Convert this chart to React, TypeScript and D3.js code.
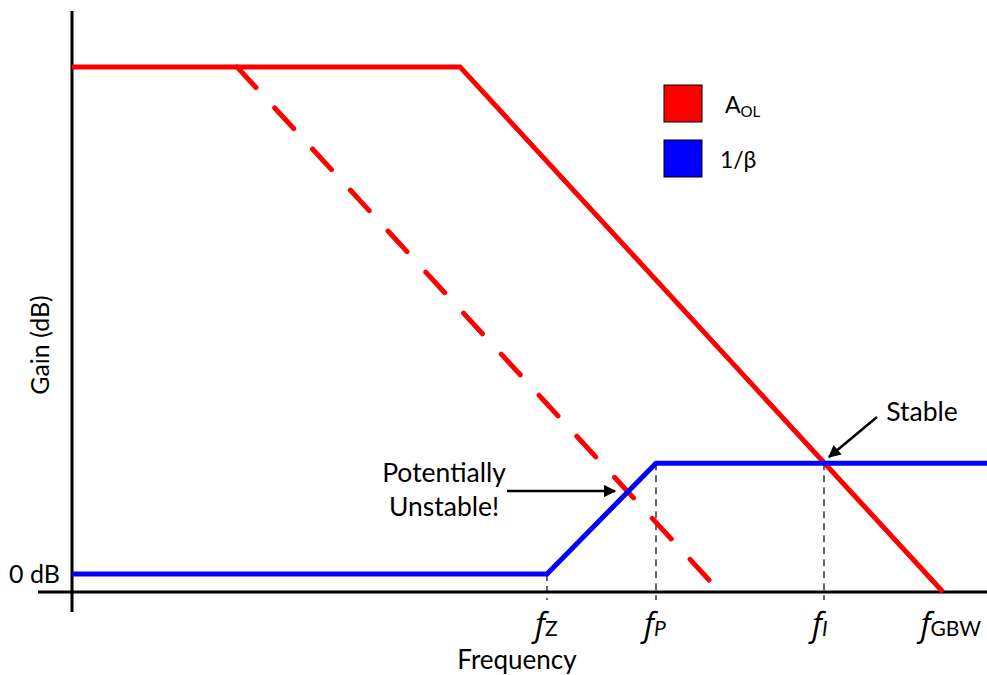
import React, { useEffect, useRef } from 'react';
import * as d3 from 'd3';

// frequency in decades (log10 f, arbitrary origin), gain in dB
const AOL_DEC = [0, 3.88, 8.71];
const AOL_DB = [93.3, 93.3, -3.3];
const AOL_DOM_DEC = [1.65, 6.37];
const AOL_DOM_DB = [93.3, -1.1];
const BETA_DEC = [0, 4.75, 5.84, 9.15];
const BETA_DB = [0, 0, 20.4, 20.4];

const FREQ_NAMES = ['Z', 'P', 'I', 'GBW'];
const FREQ_DEC = [4.75, 5.84, 7.52, 8.71];
const FREQ_ITALIC = [false, true, true, false];
const FREQ_GUIDE_DB = [0, 20.4, 20.4, null];

const LEGEND_NAMES = ['A', '1/β'];
const LEGEND_COLORS = ['#ff0000', '#0000ff'];

const W = 987;
const H = 675;

export default function App() {
  const svgRef = useRef<SVGSVGElement>(null);

  useEffect(() => {
    if (!svgRef.current) return;
    const svg = d3.select(svgRef.current);
    svg.selectAll('*').remove();

    const x = d3.scaleLinear().domain([0, 9.15]).range([72, 987]);
    const y = d3.scaleLinear().domain([0, 20]).range([574, 465.3]);
    const font = "Lato, 'Open Sans', sans-serif";

    const line = d3.line<[number, number]>().x(d => x(d[0])).y(d => y(d[1]));
    const zip = (a: number[], b: number[]) => a.map((v, i) => [v, b[i]] as [number, number]);

    // guides
    FREQ_DEC.forEach((f, i) => {
      const g = FREQ_GUIDE_DB[i];
      if (g === null) return;
      svg.append('line')
        .attr('x1', x(f)).attr('x2', x(f))
        .attr('y1', y(g)).attr('y2', y(-4.8))
        .attr('stroke', '#000').attr('stroke-width', 1.2)
        .attr('stroke-dasharray', '7,5');
    });

    // axes
    svg.append('line')
      .attr('x1', 72).attr('x2', 72)
      .attr('y1', y(103.6)).attr('y2', y(-7))
      .attr('stroke', '#000').attr('stroke-width', 3);
    svg.append('line')
      .attr('x1', 38).attr('x2', W)
      .attr('y1', y(-3.3)).attr('y2', y(-3.3))
      .attr('stroke', '#000').attr('stroke-width', 3);

    // dominant pole (dashed) A_OL, pattern ends on a dash
    const domPath = svg.append('path')
      .attr('d', line(zip(AOL_DOM_DEC, AOL_DOM_DB)))
      .attr('fill', 'none').attr('stroke', '#ff0000').attr('stroke-width', 5)
      .attr('stroke-linecap', 'round');
    const len = (domPath.node() as SVGPathElement).getTotalLength();
    const dash = 28;
    const n = Math.round((len - dash) / 55);
    domPath.attr('stroke-dasharray', `${dash},${(len - dash * (n + 1)) / n}`);

    svg.append('path')
      .attr('d', line(zip(AOL_DEC, AOL_DB)))
      .attr('fill', 'none').attr('stroke', '#ff0000').attr('stroke-width', 5);

    svg.append('path')
      .attr('d', line(zip(BETA_DEC, BETA_DB)))
      .attr('fill', 'none').attr('stroke', '#0000ff').attr('stroke-width', 5);

    // frequency labels
    FREQ_DEC.forEach((f, i) => {
      const t = svg.append('text')
        .attr('x', x(f) - 12)
        .attr('y', 636)
        .style('font-family', font);
      t.append('tspan').text('f')
        .style('font-family', "'Open Sans', sans-serif")
        .style('font-style', 'italic').style('font-size', '32px');
      t.append('tspan').text(FREQ_NAMES[i])
        .style('font-style', FREQ_ITALIC[i] ? 'italic' : 'normal')
        .style('font-size', '21px');
      const w = (t.node() as SVGTextElement).getComputedTextLength();
      if (x(f) - 12 + w > W - 6) t.attr('x', W - 6 - w);
    });

    // axis titles
    svg.append('text')
      .attr('x', 517).attr('y', 669)
      .attr('text-anchor', 'middle')
      .style('font-family', font).style('font-size', '26px')
      .text('Frequency');
    svg.append('text')
      .attr('transform', `translate(49,345) rotate(-90)`)
      .attr('text-anchor', 'middle')
      .style('font-family', font).style('font-size', '25px')
      .text('Gain (dB)');
    svg.append('text')
      .attr('x', 60).attr('y', y(0) + 9)
      .attr('text-anchor', 'end')
      .style('font-family', font).style('font-size', '25px')
      .text('0 dB');

    // legend
    LEGEND_NAMES.forEach((name, i) => {
      const top = 85 + i * 55;
      svg.append('rect')
        .attr('x', 664).attr('y', top).attr('width', 38).attr('height', 37)
        .attr('fill', LEGEND_COLORS[i]).attr('stroke', '#000').attr('stroke-width', 1);
      const t = svg.append('text')
        .attr('x', i === 0 ? 725 : 720).attr('y', top + 28)
        .style('font-family', font).style('font-size', '23px')
        .text(name);
      if (i === 0) t.append('tspan').text('OL').style('font-size', '15px').attr('dy', 4);
    });

    // annotations
    const defs = svg.append('defs');
    defs.append('marker')
      .attr('id', 'arrow').attr('viewBox', '0 0 10 10')
      .attr('refX', 9).attr('refY', 5)
      .attr('markerWidth', 5).attr('markerHeight', 5)
      .attr('markerUnits', 'strokeWidth')
      .attr('orient', 'auto')
      .append('path').attr('d', 'M0,0 L10,5 L0,10 z').attr('fill', '#000');

    svg.append('text')
      .attr('x', 444).attr('y', 482)
      .attr('text-anchor', 'middle')
      .style('font-family', font).style('font-size', '26.5px')
      .text('Potentially');
    svg.append('text')
      .attr('x', 444).attr('y', 516)
      .attr('text-anchor', 'middle')
      .style('font-family', font).style('font-size', '26.5px')
      .text('Unstable!');
    svg.append('line')
      .attr('x1', 507).attr('y1', 491).attr('x2', 615).attr('y2', 491)
      .attr('stroke', '#000').attr('stroke-width', 2.5)
      .attr('marker-end', 'url(#arrow)');

    svg.append('text')
      .attr('x', 922).attr('y', 421)
      .attr('text-anchor', 'middle')
      .style('font-family', font).style('font-size', '26.5px')
      .text('Stable');
    svg.append('line')
      .attr('x1', 877).attr('y1', 417).attr('x2', 829).attr('y2', 457)
      .attr('stroke', '#000').attr('stroke-width', 2.5)
      .attr('marker-end', 'url(#arrow)');
  }, []);

  return (
    <svg
      ref={svgRef}
      width={W}
      height={H}
      viewBox={`0 0 ${W} ${H}`}
      style={{ position: 'absolute', left: 0, top: 0, background: '#fff' }}
    />
  );
}
